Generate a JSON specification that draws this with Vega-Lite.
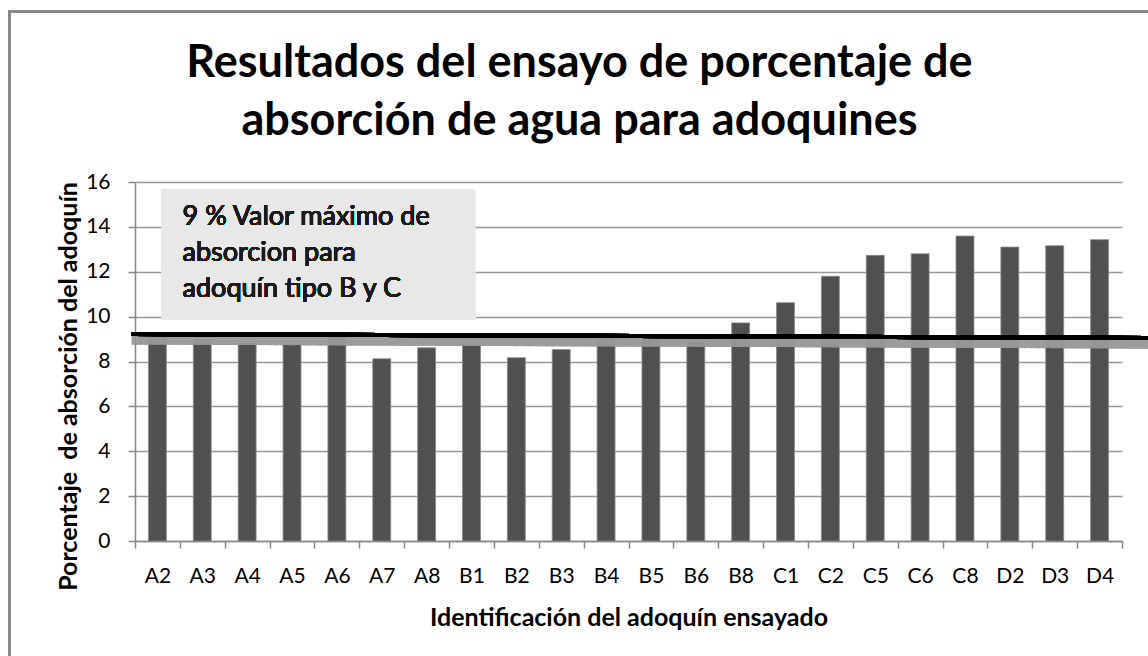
{
  "$schema": "https://vega.github.io/schema/vega-lite/v6.json",
  "autosize": {"type": "none"},
  "width": 987,
  "height": 359,
  "padding": {"left": 135, "top": 182, "right": 26, "bottom": 115},
  "background": "white",
  "config": {
    "font": "Lato",
    "view": {"stroke": null},
    "axis": {"labelColor": "#000", "titleColor": "#000", "domainColor": "#888", "tickColor": "#888", "gridColor": "#999", "domainWidth": 1.5, "tickWidth": 1.5, "gridWidth": 1.5}
  },
  "title": {
    "text": ["Resultados del ensayo de porcentaje de", "absorción de agua para adoquines"],
    "font": "Lato",
    "fontSize": 45,
    "fontWeight": "bold",
    "color": "#000",
    "lineHeight": 58,
    "anchor": "middle",
    "dx": -49,
    "offset": 0,
    "dy": 133
  },
  "data": {
    "values": [
      {"id": "A2", "pct": 9.2},
      {"id": "A3", "pct": 8.98},
      {"id": "A4", "pct": 8.83},
      {"id": "A5", "pct": 8.79},
      {"id": "A6", "pct": 9.2},
      {"id": "A7", "pct": 8.12},
      {"id": "A8", "pct": 8.61},
      {"id": "B1", "pct": 8.76},
      {"id": "B2", "pct": 8.17},
      {"id": "B3", "pct": 8.53},
      {"id": "B4", "pct": 9.2},
      {"id": "B5", "pct": 9.12},
      {"id": "B6", "pct": 8.85},
      {"id": "B8", "pct": 9.72},
      {"id": "C1", "pct": 10.62},
      {"id": "C2", "pct": 11.8},
      {"id": "C5", "pct": 12.73},
      {"id": "C6", "pct": 12.8},
      {"id": "C8", "pct": 13.59},
      {"id": "D2", "pct": 13.1},
      {"id": "D3", "pct": 13.16},
      {"id": "D4", "pct": 13.43}
    ]
  },
  "resolve": {"scale": {"x": "independent"}},
  "layer": [
    {
      "mark": {"type": "bar", "width": {"band": 0.4}, "fill": "#505050", "stroke": "#8a8a8a", "strokeWidth": 0.8},
      "encoding": {
        "x": {
          "field": "id", "type": "nominal", "sort": null,
          "scale": {"paddingInner": 0, "paddingOuter": 0},
          "axis": {
            "title": "Identificación del adoquín ensayado",
            "titleFontSize": 25, "titleFontWeight": "bold", "titlePadding": 19,
            "labelFontSize": 21, "labelAngle": 0, "labelPadding": 17,
            "tickSize": 7, "tickBand": "extent", "grid": false
          }
        },
        "y": {
          "field": "pct", "type": "quantitative",
          "scale": {"domain": [0, 16], "nice": false},
          "axis": {
            "title": "Porcentaje\u00a0 de absorción del adoquín",
            "titleFontSize": 25, "titleFontWeight": "bold", "titlePadding": 4, "titleY": 204,
            "values": [0, 2, 4, 6, 8, 10, 12, 14, 16],
            "labelFontSize": 21, "labelPadding": 18, "tickSize": 7, "grid": true
          }
        }
      }
    },
    {
      "layer": [
        {
          "mark": {"type": "rect", "fill": "none", "stroke": "#8a8a8a", "strokeWidth": 1.5, "clip": false},
          "encoding": {
            "x": {"datum": -2.8, "type": "quantitative", "scale": {"domain": [0, 22], "nice": false, "zero": false}, "axis": null},
            "x2": {"datum": 23.5},
            "y": {"datum": 23.6, "type": "quantitative"},
            "y2": {"datum": -6}
          }
        },
        {
          "mark": {"type": "rect", "fill": "#e8e8e8"},
          "encoding": {
            "x": {"datum": 0.6, "type": "quantitative"},
            "x2": {"datum": 7.58},
            "y": {"datum": 9.87, "type": "quantitative"},
            "y2": {"datum": 15.67}
          }
        },
        {
          "mark": {"type": "text", "align": "left", "baseline": "alphabetic", "fontSize": 27, "fontWeight": "normal", "lineHeight": 36, "color": "#1a1a1a", "font": "Lato"},
          "encoding": {
            "x": {"datum": 1.06, "type": "quantitative"},
            "y": {"datum": 14.07, "type": "quantitative"},
            "text": {"value": ["9 % Valor máximo de", "absorcion para", "adoquín tipo B y C"]}
          }
        },
        {
          "mark": {"type": "rule", "color": "#999", "strokeWidth": 10, "opacity": 0.14, "clip": false},
          "encoding": {
            "x": {"datum": -0.07, "type": "quantitative"},
            "x2": {"datum": 22.58},
            "y": {"datum": 8.98, "type": "quantitative"},
            "y2": {"datum": 8.8}
          }
        },
        {
          "mark": {"type": "rule", "color": "#000", "strokeWidth": 4, "clip": false},
          "encoding": {
            "x": {"datum": -0.07, "type": "quantitative"},
            "x2": {"datum": 22.58},
            "y": {"datum": 9.23, "type": "quantitative"},
            "y2": {"datum": 9.05}
          }
        }
      ]
    }
  ]
}
